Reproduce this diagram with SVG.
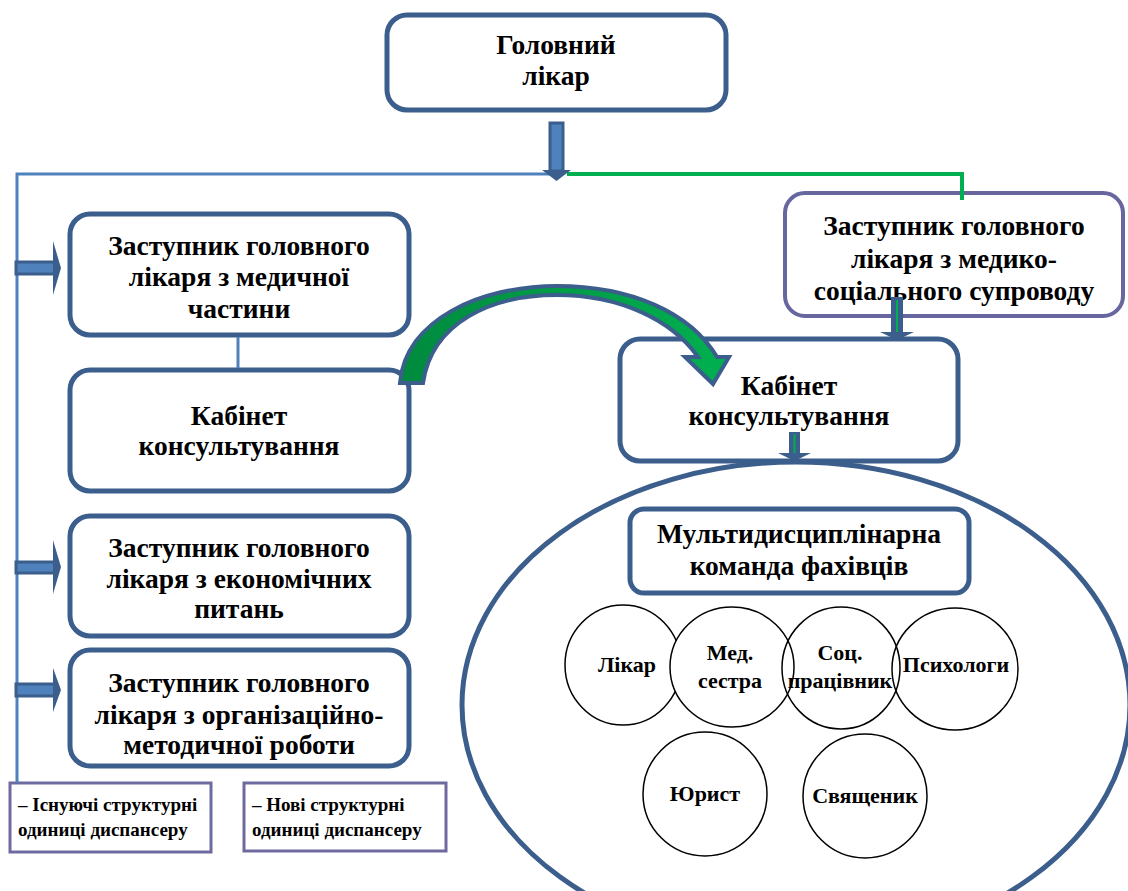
<svg xmlns="http://www.w3.org/2000/svg" width="1128" height="891" viewBox="0 0 1128 891">
<style>
.box{fill:#fff;stroke:#3b5e8c;stroke-width:5}
.pbox{fill:#fff;stroke:#67669e;stroke-width:4}
.lbox{fill:#fff;stroke:#6e6aa0;stroke-width:3}
.t,.c,.l{font-family:"Liberation Serif","Times New Roman","DejaVu Serif",serif;font-weight:bold;fill:#000}
.t{font-size:27.5px;text-anchor:middle}
.c{font-size:22px;text-anchor:middle}
.l{font-size:19px}
.ln{fill:none;stroke:#4f81bd;stroke-width:3}
.gn{fill:none;stroke:#00b050;stroke-width:4}
.sh{fill:#4f81bd;stroke:#3b5e8c;stroke-width:3}
.hd{fill:#3b5e8c}
.circ{fill:none;stroke:#000;stroke-width:1.5}
</style>
<defs>
<linearGradient id="g" x1="0" y1="0" x2="1" y2="0">
<stop offset="0" stop-color="#008a3e"/>
<stop offset="1" stop-color="#00b050"/>
</linearGradient>
</defs>
<rect width="1128" height="891" fill="#fff"/>

<g id="head">
<rect class="box" x="387" y="15" width="339" height="95" rx="20"/>
<text class="t" x="556" y="54">Головний</text>
<text class="t" x="556" y="85">лікар</text>
</g>

<g id="dep-med">
<rect class="box" x="70" y="214" width="339" height="121" rx="20"/>
<text class="t" x="239" y="255">Заступник головного</text>
<text class="t" x="239" y="286">лікаря з медичної</text>
<text class="t" x="239" y="318">частини</text>
</g>

<g id="cab-left">
<rect class="box" x="70" y="370" width="339" height="121" rx="20"/>
<text class="t" x="239" y="425">Кабінет</text>
<text class="t" x="239" y="455">консультування</text>
</g>

<g id="dep-econ">
<rect class="box" x="70" y="516" width="339" height="120" rx="20"/>
<text class="t" x="239" y="557">Заступник головного</text>
<text class="t" x="239" y="588">лікаря з економічних</text>
<text class="t" x="239" y="618">питань</text>
</g>

<g id="dep-org">
<rect class="box" x="70" y="650" width="339" height="116" rx="20"/>
<text class="t" x="239" y="692">Заступник головного</text>
<text class="t" x="239" y="724">лікаря з організаційно-</text>
<text class="t" x="239" y="754">методичної роботи</text>
</g>

<g id="dep-social">
<rect class="pbox" x="785" y="193" width="338" height="123" rx="20"/>
<text class="t" x="954" y="235">Заступник головного</text>
<text class="t" x="954" y="268">лікаря з медико-</text>
<text class="t" x="954" y="300">соціального супроводу</text>
</g>

<g id="cab-right">
<rect class="box" x="620" y="339" width="338" height="122" rx="20"/>
<text class="t" x="789" y="395">Кабінет</text>
<text class="t" x="789" y="425">консультування</text>
</g>

<g id="team-area">
<ellipse cx="796" cy="705" rx="334" ry="243" fill="none" stroke="#3b5e8c" stroke-width="5"/>
</g>

<g id="team">
<rect class="box" x="630" y="509" width="339" height="84" rx="14"/>
<text class="t" x="799" y="543">Мультидисциплінарна</text>
<text class="t" x="799" y="575">команда фахівців</text>
</g>

<g id="likar">
<ellipse class="circ" cx="623" cy="665" rx="58" ry="60"/>
<text class="c" x="627" y="672">Лікар</text>
</g>
<g id="medsestra">
<ellipse cx="732" cy="667" rx="62" ry="60" fill="#fff" stroke="#000" stroke-width="1.5"/>
<text class="c" x="730" y="660">Мед.</text>
<text class="c" x="730" y="688">сестра</text>
</g>
<g id="socprac">
<ellipse class="circ" cx="841" cy="668" rx="59" ry="61"/>
<text class="c" x="840" y="660">Соц.</text>
<text class="c" x="840" y="688">працівник</text>
</g>
<g id="psych">
<ellipse class="circ" cx="955" cy="669" rx="63" ry="61"/>
<text class="c" x="956" y="672">Психологи</text>
</g>
<g id="yurist">
<ellipse class="circ" cx="705" cy="794" rx="62" ry="62"/>
<text class="c" x="705" y="801">Юрист</text>
</g>
<g id="svyaschenyk">
<ellipse class="circ" cx="865" cy="796" rx="62" ry="62"/>
<text class="c" x="865" y="803">Священик</text>
</g>

<g id="legend-existing">
<rect class="lbox" x="10" y="783" width="201" height="69"/>
<text class="l" x="18" y="811">– Існуючі структурні</text>
<text class="l" x="18" y="836">одиниці диспансеру</text>
</g>
<g id="legend-new">
<rect class="lbox" x="244" y="783" width="202" height="68"/>
<text class="l" x="252" y="811">– Нові структурні</text>
<text class="l" x="252" y="836">одиниці диспансеру</text>
</g>

<g id="connectors">
<polyline class="ln" points="17,783 17,174 557,174"/>
<polyline class="gn" points="567,174 960,174"/>
<line class="gn" x1="962" y1="172" x2="962" y2="200"/>
<line class="ln" x1="238" y1="337" x2="238" y2="368"/>
<rect class="sh" x="550" y="123" width="13" height="48"/>
<polygon class="hd" points="542,170 571,170 556.5,181"/>
<rect class="sh" x="16" y="262" width="39" height="12"/>
<polygon class="hd" points="53,241 61,268 53,295"/>
<rect class="sh" x="16" y="562" width="39" height="11"/>
<polygon class="hd" points="53,540 61,567 53,594"/>
<rect class="sh" x="16" y="684" width="39" height="12"/>
<polygon class="hd" points="53,668 61,690 53,712"/>
<rect x="891" y="297" width="12" height="35" fill="#3b5e8c"/>
<line x1="897" y1="300" x2="897" y2="334" stroke="#00b050" stroke-width="2"/>
<polygon class="hd" points="880,332 914,332 897,340"/>
<rect x="789" y="432" width="11" height="21" fill="#3b5e8c"/>
<line x1="794.5" y1="434" x2="794.5" y2="455" stroke="#00b050" stroke-width="2"/>
<polygon class="hd" points="778,453 811,453 794.5,461"/>
<path d="M400,383 C405,320 480,286 557,286 C630,286 690,312 717,357 L729,357 L713,384 L685,357 L698,357 C672,320 620,295 557,295 C492,295 432,322 423,383 Z" fill="url(#g)" stroke="#3b5e8c" stroke-width="4" stroke-linejoin="miter"/>
</g>
</svg>
